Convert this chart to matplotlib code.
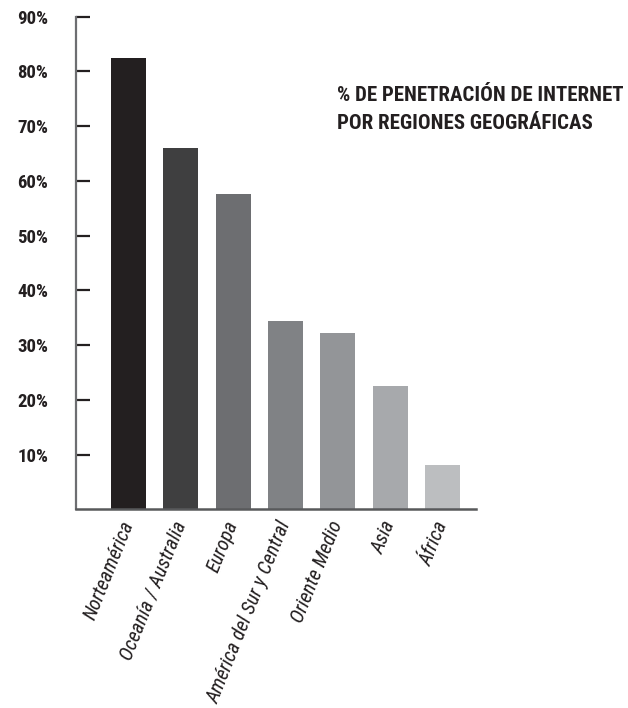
"""
Penetración de Internet por regiones geográficas - gráfico de barras.
"""

import matplotlib.pyplot as plt
import numpy as np

regiones = ['Norteamérica', 'Oceanía / Australia', 'Europa',
            'América del Sur y Central', 'Oriente Medio', 'Asia', 'África']
penetracion = [82.5, 66.1, 57.6, 34.4, 32.2, 22.5, 8.1]
colores = ['#231f20', '#3f3f40', '#6d6e71', '#808285', '#939598',
           '#a7a9ac', '#bcbec0']
yticks = [10, 20, 30, 40, 50, 60, 70, 80, 90]
ytick_labels = [f'{v}%' for v in yticks]

titulo = '% DE PENETRACIÓN DE INTERNET\nPOR REGIONES GEOGRÁFICAS'

fuente = ['Roboto Condensed', 'DejaVu Sans']

W, H = 628, 708
fig = plt.figure(figsize=(W / 100, H / 100), dpi=100)
ax = fig.add_axes([76 / W, (H - 509.3) / H, 400 / W, (509.3 - 16.7) / H])

x = np.arange(len(regiones))
ax.bar(x, penetracion, width=0.67, color=colores, zorder=2)

ax.set_xlim(-1.0, 6.64)
ax.set_ylim(0, 90)

for lado in ['top', 'right']:
    ax.spines[lado].set_visible(False)
ax.spines['left'].set_color('#6d6e71')
ax.spines['left'].set_linewidth(1.6)
ax.spines['bottom'].set_color('#58595b')
ax.spines['bottom'].set_linewidth(1.8)

ax.set_yticks(yticks)
ax.set_yticklabels(ytick_labels, fontfamily=fuente, fontweight='bold',
                   fontsize=13.5, color='#231f20')
ax.tick_params(axis='y', direction='in', length=10, width=1.6,
               color='#231f20', pad=20)

# Etiquetas de regiones inclinadas
ax.set_xticks(x)
ax.set_xticklabels(regiones, rotation=68, ha='right', va='center',
                   rotation_mode='anchor', fontfamily=fuente,
                   fontstyle='italic', fontweight='normal', fontsize=14.5,
                   color='#231f20')
ax.tick_params(axis='x', length=0, pad=9)

fig.text(337 / W, 1 - 86 / H, titulo, ha='left', va='top',
         fontfamily=fuente, fontweight='bold', fontsize=15,
         color='#231f20', linespacing=1.6)

plt.savefig('out.png', dpi=100)
